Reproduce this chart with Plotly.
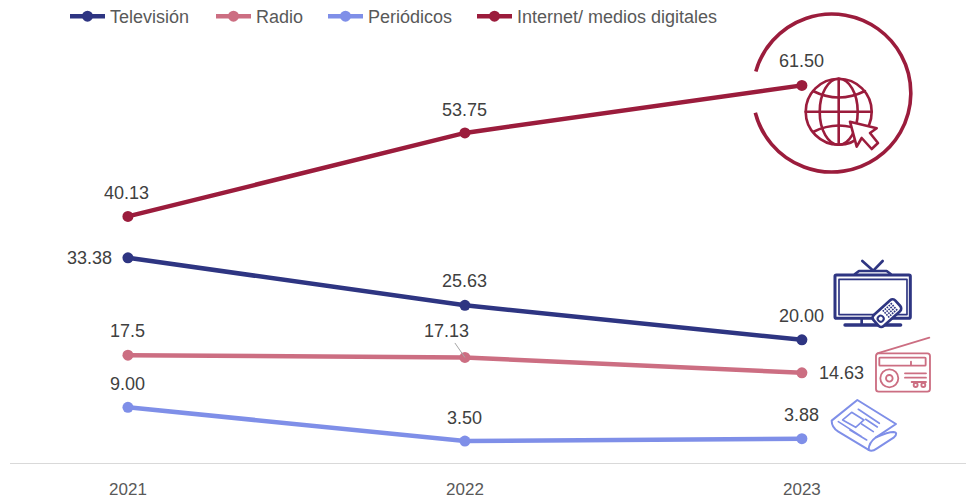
import base64
import plotly.graph_objects as go

years = [2021, 2022, 2023]
television = [33.38, 25.63, 20.00]
radio = [17.5, 17.13, 14.63]
periodicos = [9.00, 3.50, 3.88]
internet = [40.13, 53.75, 61.50]
television_labels = ["33.38", "25.63", "20.00"]
radio_labels = ["17.5", "17.13", "14.63"]
periodicos_labels = ["9.00", "3.50", "3.88"]
internet_labels = ["40.13", "53.75", "61.50"]

W, H = 966, 501
NAVY, ROSE, PERI, WINE = "#2e3582", "#cc6e82", "#7f8fe8", "#9b1c3c"
LABEL = "#404040"
FONT = "Liberation Sans"

series = [
    ("Televisión", television, NAVY, "legend", 65),
    ("Radio", radio, ROSE, "legend2", 211),
    ("Periódicos", periodicos, PERI, "legend3", 323),
    ("Internet/ medios digitales", internet, WINE, "legend4", 472),
]

fig = go.Figure()
for name, vals, col, leg, _ in series:
    fig.add_trace(go.Scatter(
        x=years, y=vals, name=name, mode="lines+markers", legend=leg,
        line=dict(color=col, width=4.5),
        marker=dict(color=col, size=11),
        hoverinfo="skip", cliponaxis=False,
    ))

# (xshift, yshift) per label, one row per series
placements = [
    (television, television_labels, [(-38, 0), (0, 24), (0, 24)]),
    (radio, radio_labels, [(0, 24), None, (40, 0)]),
    (periodicos, periodicos_labels, [(0, 23), (0, 23), (0, 24)]),
    (internet, internet_labels, [(-1, 23), (0, 23), (0, 24)]),
]
annotations = []
for vals, labs, offs in placements:
    for yr, v, lab, off in zip(years, vals, labs, offs):
        if off is None:
            annotations.append(dict(
                x=yr, y=v, xref="x", yref="y", text=lab, showarrow=True, arrowhead=0, arrowwidth=1,
                arrowcolor="#a6a6a6", ax=-18, ay=-26, axref="pixel", ayref="pixel",
                font=dict(family=FONT, size=18, color=LABEL),
            ))
        else:
            annotations.append(dict(
                x=yr, y=v, xref="x", yref="y", text=lab, showarrow=False, xshift=off[0], yshift=off[1],
                font=dict(family=FONT, size=18, color=LABEL),
            ))

icons = f'''<svg xmlns="http://www.w3.org/2000/svg" width="{W}" height="{H}" viewBox="0 0 {W} {H}" fill="none" stroke-linejoin="round" stroke-linecap="round">
<g stroke="{WINE}">
<path d="M755.8 71.5 A79 79 0 1 1 755.3 112.7" stroke-width="3.6" stroke-linecap="butt"/>
<g stroke-width="2.6">
<circle cx="838.7" cy="111.7" r="33"/>
<ellipse cx="838.7" cy="111.7" rx="19" ry="33"/>
<path d="M838.7 78.7 V144.7 M805.7 111.7 H871.7"/>
<path d="M813 91 Q838.7 104 865 91 M813 132 Q838.7 119 865 132"/>
</g>
<path d="M850 121.7 L876.7 128.3 L870 133 L878 143 L871.7 149 L861.7 138 L856.7 146.7 Z" fill="white" stroke-width="2.6"/>
</g>
<g transform="translate(770 250) scale(0.3333)">
<g stroke="{NAVY}">
<rect x="195" y="75" width="226" height="130" rx="4" stroke-width="9"/>
<rect x="207" y="88" width="204" height="106" stroke-width="5"/>
<path d="M255 72 L267 63 H350 L362 72" stroke-width="8"/>
<path d="M277 33 L310 62 L338 33" stroke-width="8"/>
<path d="M275 205 V222 M345 205 V222" stroke-width="8"/>
<path d="M225 225 H392" stroke-width="10"/>
<g transform="rotate(-42 350 190)">
<rect x="307" y="168" width="88" height="44" rx="11" fill="white" stroke-width="8"/>
<circle cx="326" cy="190" r="9" stroke-width="6"/>
<path d="M345 178 h40 M345 186 h40 M345 194 h40 M345 202 h40" stroke-width="5" stroke-dasharray="5 3" stroke-linecap="butt"/>
</g>
</g>
<g stroke="{ROSE}" stroke-width="5.5">
<rect x="318" y="310" width="162" height="115" rx="8"/>
<path d="M322 310 L478 263"/>
<rect x="328" y="323" width="139" height="24" rx="2"/>
<path d="M423 335 V345"/>
<circle cx="358" cy="385" r="27"/>
<circle cx="358" cy="385" r="10"/>
<path d="M405 370 H468 M405 383 H468 M425 396 H468"/>
<circle cx="437" cy="405" r="6"/>
<circle cx="460" cy="405" r="6"/>
</g>
<g stroke="{PERI}" stroke-width="6">
<path d="M185 512 L262 450 L378 522 L318 562 Q296 578 296 600 L205 545 Q185 532 185 512 Z"/>
<path d="M296 600 Q306 606 320 596 L372 562 Q386 548 370 546 Q355 546 318 562"/>
<path d="M218 510 L245 487 L282 510 L257 532 Z" stroke-width="5"/>
<path d="M265 478 L328 520 M287 508 L322 531 M275 522 L310 545 M205 515 L275 560 M240 540 L290 570" stroke-width="5"/>
</g>
</g>
</svg>'''
icon_src = "data:image/svg+xml;base64," + base64.b64encode(icons.encode("utf-8")).decode()

legend_style = dict(
    orientation="h", xanchor="left", yanchor="middle", y=1 - 16.5 / H,
    bgcolor="rgba(0,0,0,0)", itemwidth=35, borderwidth=0,
    font=dict(family=FONT, size=18, color="#595959"),
)
legends = {}
for name, vals, col, leg, px in series:
    legends[leg] = dict(legend_style, x=px / W)

fig.update_layout(
    width=W, height=H,
    margin=dict(l=0, r=0, t=0, b=0, autoexpand=False),
    plot_bgcolor="white", paper_bgcolor="white",
    showlegend=True,
    annotations=annotations,
    images=[dict(source=icon_src, xref="paper", yref="paper", x=0, y=1, sizex=1, sizey=1,
                 xanchor="left", yanchor="top", sizing="stretch", layer="above")],
    xaxis=dict(
        domain=[10 / W, 1], range=[2021 - 0.35, 2023 + 0.487],
        tickmode="array", tickvals=years, ticktext=[str(y) for y in years],
        showgrid=False, zeroline=False, showline=True, linecolor="#d9d9d9", linewidth=1,
        ticks="", tickfont=dict(family=FONT, size=17, color="#595959"), ticklabelstandoff=11,
    ),
    yaxis=dict(
        domain=[38.5 / H, 466.5 / H], range=[0, 69.8], visible=False,
    ),
    **legends,
)
fig.write_html("out.html", config=dict(displayModeBar=False),
               post_script="document.body.style.margin='0';")
